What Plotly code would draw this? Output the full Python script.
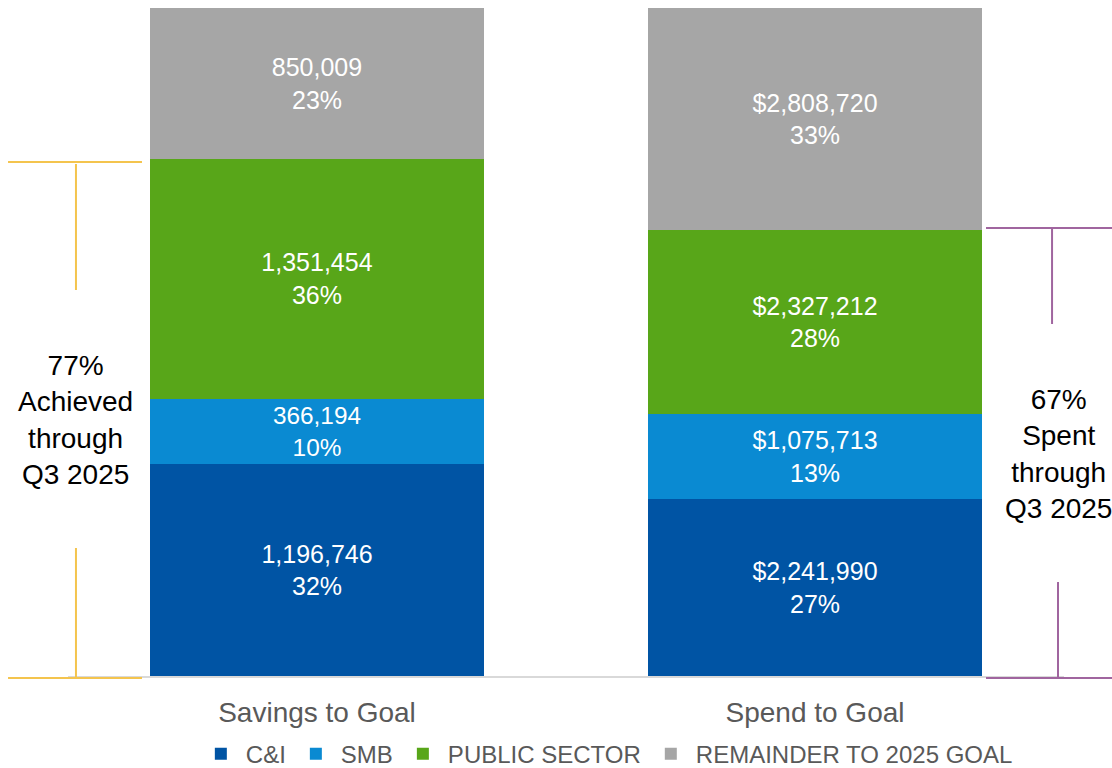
import plotly.graph_objects as go

FONT = "Arial, Liberation Sans, sans-serif"

categories = ["Savings to Goal", "Spend to Goal"]
series_names = ["C&I", "SMB", "PUBLIC SECTOR", "REMAINDER TO 2025 GOAL"]
ci_values = [1196746, 2241990]
smb_values = [366194, 1075713]
public_values = [1351454, 2327212]
remainder_values = [850009, 2808720]
prefixes = ["", "$"]
colors = ["#0054A4", "#0A8AD2", "#58A619", "#A6A6A6"]

series = [ci_values, smb_values, public_values, remainder_values]
totals = [sum(s[i] for s in series) for i in range(len(categories))]

fig = go.Figure()
for name, vals, color in zip(series_names, series, colors):
    labels = [
        f"{prefixes[i]}{v:,}<br>{v / totals[i] * 100:.0f}%"
        for i, v in enumerate(vals)
    ]
    fig.add_trace(go.Bar(
        x=categories, y=vals, name=name,
        marker=dict(color=color, line=dict(width=0)),
        text=labels, texttemplate="%{text}",
        textposition="inside", insidetextanchor="middle", textangle=0,
        textfont=dict(family=FONT, size=25, color="white"),
        hoverinfo="skip",
    ))

# share achieved / spent so far (everything except the remainder)
done = [(totals[i] - remainder_values[i]) / totals[i] * 100 for i in range(2)]

YELLOW = "#F4C44E"
PURPLE = "#A0659F"


def seg(x0, y0, x1, y1, color):
    fig.add_shape(type="line", xref="paper", yref="paper",
                  x0=x0, y0=y0, x1=x1, y1=y1,
                  line=dict(color=color, width=2))


# left bracket
seg(-0.0602, 0.7695, 0.0743, 0.7695, YELLOW)
seg(0.0080, 0.7665, 0.0080, 0.5778, YELLOW)
seg(0.0080, 0.1916, 0.0080, -0.0030, YELLOW)
seg(-0.0602, -0.0030, 0.0743, -0.0030, YELLOW)
# right bracket
seg(0.9217, 0.6707, 1.0482, 0.6707, PURPLE)
seg(0.9880, 0.6707, 0.9880, 0.5269, PURPLE)
seg(0.9940, 0.1407, 0.9940, -0.0030, PURPLE)
seg(0.9217, -0.0030, 1.0482, -0.0030, PURPLE)

fig.add_annotation(
    xref="paper", yref="paper", x=0.008, y=0.383,
    text=f"{done[0]:.0f}%<br>Achieved<br>through<br>Q3 2025",
    showarrow=False, xanchor="center", yanchor="middle", align="center",
    font=dict(family=FONT, size=28, color="black"),
)
fig.add_annotation(
    xref="paper", yref="paper", x=0.994, y=0.332,
    text=f"{done[1]:.0f}%<br>Spent<br>through<br>Q3 2025",
    showarrow=False, xanchor="center", yanchor="middle", align="center",
    font=dict(family=FONT, size=28, color="black"),
)

fig.update_layout(
    barmode="stack", barnorm="percent", bargap=0.331,
    width=1112, height=768,
    margin=dict(l=68, r=48, t=8, b=92, autoexpand=False),
    plot_bgcolor="white", paper_bgcolor="white",
    font=dict(family=FONT, color="#595959"),
    showlegend=True,
    legend=dict(
        orientation="h", x=0.541, xanchor="center", y=-0.117, yanchor="middle",
        font=dict(family=FONT, size=24, color="#595959"),
        itemwidth=40, traceorder="normal",
    ),
)
fig.update_xaxes(
    showline=True, linecolor="#D9D9D9", linewidth=2, showgrid=False,
    ticks="", ticklabelstandoff=10,
    tickfont=dict(family=FONT, size=28, color="#595959"),
)
fig.update_yaxes(visible=False, range=[0, 100])

fig.write_html(
    "out.html",
    config={"displayModeBar": False},
    post_script="document.body.style.margin='0';document.body.style.overflow='hidden';",
)
